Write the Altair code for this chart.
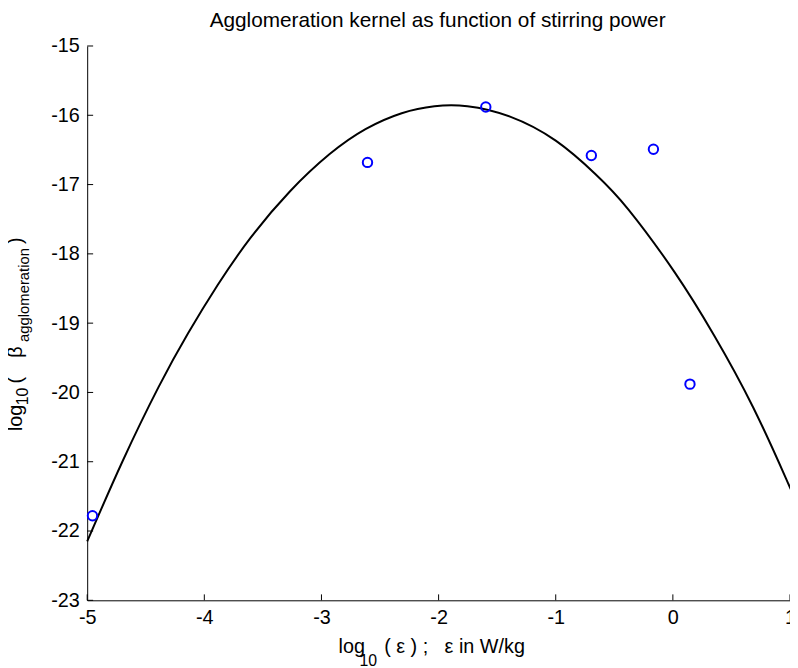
import altair as alt
import pandas as pd

# measured data points (blue open circles)
pts_x = [-4.955, -2.607, -1.597, -0.696, -0.166, 0.146]
pts_y = [-21.78, -16.68, -15.88, -16.58, -16.49, -19.88]

# fitted curve
curve_x = [-5.0, -4.70, -4.39, -4.14, -3.886, -3.606, -3.27, -2.93, -2.624, -2.315,
           -2.035, -1.754, -1.39, -0.997, -0.66, -0.379, 0.013, 0.35, 0.687, 0.968, 1.0]
curve_y = [-22.15, -21.00, -19.92, -19.15, -18.45, -17.77, -17.10, -16.56, -16.20, -15.97,
           -15.87, -15.87, -16.02, -16.37, -16.85, -17.36, -18.26, -19.17, -20.22, -21.25, -21.37]

x_ticks = [-5, -4, -3, -2, -1, 0, 1]
y_ticks = [-23, -22, -21, -20, -19, -18, -17, -16, -15]

FONT = "Liberation Sans"
W, H = 710, 560
PL, PT = 80, 35  # padding -> plot origin at page (88, 43)

xs = alt.Scale(domain=[-5, 1], nice=False, zero=False)
ys = alt.Scale(domain=[-23, -15], nice=False, zero=False)

x_axis = alt.Axis(values=x_ticks, labelExpr="'' + datum.value", tickSize=0, labelPadding=7,
                  labelFlush=False, labelFontSize=20, labelFont=FONT,
                  labelColor="black", domainColor="black", grid=False,
                  labelOverlap=False, title=None)
y_axis = alt.Axis(values=y_ticks, labelExpr="'' + datum.value", tickSize=0, labelPadding=8,
                  labelFontSize=20, labelFont=FONT, labelColor="black",
                  domainColor="black", grid=False, labelOverlap=False, title=None)

pts = pd.DataFrame({"x": pts_x, "y": pts_y})
cur = pd.DataFrame({"x": curve_x, "y": curve_y})

line = alt.Chart(cur).mark_line(color="black", strokeWidth=2, interpolate="natural").encode(
    x=alt.X("x:Q", scale=xs, axis=x_axis),
    y=alt.Y("y:Q", scale=ys, axis=y_axis),
)

points = alt.Chart(pts).mark_point(shape="circle", filled=False, color="#0000FF",
                                   strokeWidth=2, size=90, opacity=1).encode(
    x=alt.X("x:Q", scale=xs, axis=x_axis),
    y=alt.Y("y:Q", scale=ys, axis=y_axis))

ytk = alt.Chart(pd.DataFrame({"y": y_ticks})).mark_rule(color="black", strokeWidth=1).encode(
    y=alt.Y("y:Q", scale=ys, axis=y_axis), x=alt.value(0), x2=alt.value(6))
xtk = alt.Chart(pd.DataFrame({"x": x_ticks})).mark_rule(color="black", strokeWidth=1).encode(
    x=alt.X("x:Q", scale=xs, axis=x_axis), y=alt.value(H), y2=alt.value(H - 6))


def txt(s, px, py, size=20, angle=0, align="left"):
    kw = dict(text=s, font=FONT, fontSize=size, align=align, baseline="alphabetic",
              color="black")
    if angle:
        kw["angle"] = angle
    return alt.Chart(alt.Data(values=[{}])).mark_text(**kw).encode(
        x=alt.value(px - 88), y=alt.value(py - 43))


labels = [
    txt("Agglomeration kernel as function of stirring power", 442, 24, size=21, align="center"),
    # x axis title
    txt("log", 342, 656),
    txt("10", 363, 669, size=16),
    txt("( \u03b5 ) ;\u00a0\u00a0 \u03b5 in W/kg", 388, 656),
    # y axis title (rotated)
    txt("log", 22, 432, angle=270),
    txt("10", 28, 406, size=16, angle=270),
    txt("(", 22, 384, angle=270),
    txt("\u03b2", 22, 358, angle=270),
    txt("agglomeration", 29, 342, size=15, angle=270),
    txt(")", 22, 243, angle=270),
]

chart = alt.layer(line, points, ytk, xtk, *labels).properties(
    width=W, height=H,
    autosize=alt.AutoSizeParams(type="none"),
    padding={"left": PL, "top": PT, "right": 0, "bottom": 65},
).configure_view(stroke=None).configure_axis(domainWidth=1)

chart.save("out.html", embed_options={"renderer": "svg", "actions": False})
